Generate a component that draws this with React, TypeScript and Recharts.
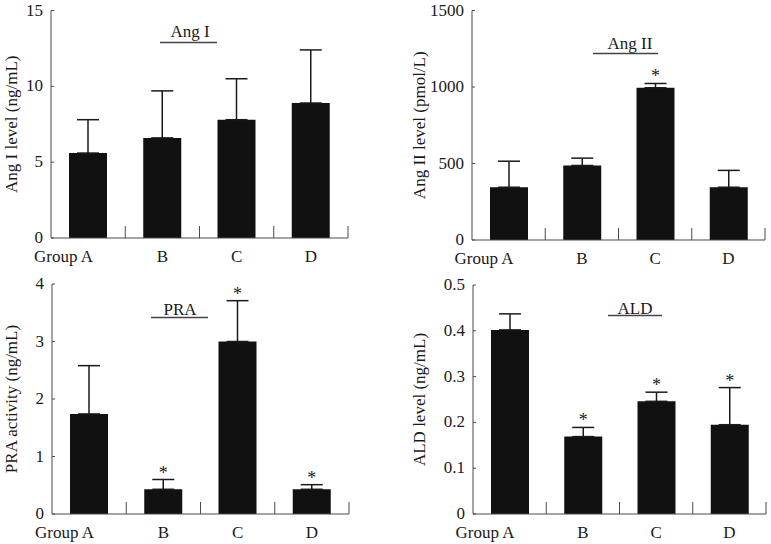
import { BarChart, Bar, XAxis, YAxis, ErrorBar, LabelList } from "recharts";

const groups = ["Group A", "B", "C", "D"];

const angIMean = [5.6, 6.6, 7.8, 8.9];
const angISd = [2.2, 3.1, 2.7, 3.5];
const angISig = [false, false, false, false];
const angITicks = [0, 5, 10, 15];

const angIIMean = [345, 487, 995, 345];
const angIISd = [170, 48, 28, 110];
const angIISig = [false, false, true, false];
const angIITicks = [0, 500, 1000, 1500];

const praMean = [1.74, 0.43, 3.0, 0.43];
const praSd = [0.84, 0.17, 0.71, 0.08];
const praSig = [false, true, true, true];
const praTicks = [0, 1, 2, 3, 4];

const aldMean = [0.402, 0.169, 0.246, 0.195];
const aldSd = [0.035, 0.02, 0.02, 0.081];
const aldSig = [false, true, true, true];
const aldTicks = [0, 0.1, 0.2, 0.3, 0.4, 0.5];

const FONT = "'Liberation Serif', 'Times New Roman', serif";
const AXIS = "#4a4a4a";
const INK = "#1a1a1a";

type Row = { group: string; value: number; err: [number, number]; sd: number; sig: boolean };

const makeRows = (mean: number[], sd: number[], sig: boolean[]): Row[] =>
  groups.map((g, i) => ({ group: g, value: mean[i], err: [0, sd[i]], sd: sd[i], sig: sig[i] }));

// category label + the little separator tick at the right edge of each band
const XTick = (props: any) => {
  const { x, y, payload } = props;
  const half = payload.offset ?? 37;
  const first = payload.index === 0;
  return (
    <g>
      <line x1={x + half} x2={x + half} y1={y} y2={y - 12} stroke={AXIS} strokeWidth={1} />
      <text
        x={first ? x + 5 : x}
        y={y + 24}
        textAnchor={first ? "end" : "middle"}
        fontFamily={FONT}
        fontSize={17}
        fill={INK}
      >
        {payload.value}
      </text>
    </g>
  );
};

const YTick = (props: any) => {
  const { x, y, payload } = props;
  return (
    <text x={x} y={y + 5} textAnchor="end" fontFamily={FONT} fontSize={17} fill={INK}>
      {payload.value}
    </text>
  );
};

type PanelProps = {
  left: number;
  top: number;
  width: number;
  margin: { top: number; right: number; bottom: number; left: number };
  yWidth: number;
  rows: Row[];
  ticks: number[];
  yLabel: string;
  yLabelX: number;
  title: string;
  titleX: number;
  titleY: number;
  line: [number, number, number];
};

function Panel(p: PanelProps) {
  const max = p.ticks[p.ticks.length - 1];

  const star = (lp: any) => {
    const row = p.rows[lp.index];
    if (!row || !row.sig) return null;
    const x = Number(lp.x);
    const y = Number(lp.y);
    const w = Number(lp.width);
    const h = Number(lp.height);
    const errTop = y - (row.sd * h) / row.value;
    return (
      <text x={x + w / 2} y={errTop - 1} textAnchor="middle" fontFamily={FONT} fontSize={18} fill={INK}>
        *
      </text>
    );
  };

  const yLabel = (lp: any) => {
    const vb = lp.viewBox || {};
    const cy = vb.y + vb.height / 2;
    return (
      <text
        x={p.yLabelX}
        y={cy}
        transform={`rotate(-90, ${p.yLabelX}, ${cy})`}
        textAnchor="middle"
        dominantBaseline="central"
        fontFamily={FONT}
        fontSize={17}
        fill={INK}
      >
        {p.yLabel}
      </text>
    );
  };

  return (
    <div style={{ position: "absolute", left: p.left, top: p.top }}>
      <BarChart width={p.width} height={272} data={p.rows} margin={p.margin}>
        <XAxis
          dataKey="group"
          height={30}
          axisLine={{ stroke: AXIS }}
          tickLine={false}
          tickSize={0}
          tickMargin={0}
          tick={<XTick />}
          interval={0}
        />
        <YAxis
          width={p.yWidth}
          domain={[0, max]}
          ticks={p.ticks}
          interval={0}
          axisLine={{ stroke: AXIS }}
          tickLine={{ stroke: AXIS }}
          tickSize={-3}
          tickMargin={11}
          tick={<YTick />}
          label={{ content: yLabel }}
        />
        <Bar dataKey="value" fill="#111111" barSize={38} isAnimationActive={false}>
          <ErrorBar dataKey="err" direction="y" width={11} stroke={INK} strokeWidth={1.5} />
          <LabelList dataKey="value" content={star} />
        </Bar>
        <text x={p.titleX} y={p.titleY} textAnchor="middle" fontFamily={FONT} fontSize={17} fill={INK}>
          {p.title}
        </text>
        <line x1={p.line[0]} x2={p.line[1]} y1={p.line[2]} y2={p.line[2]} stroke="#444" strokeWidth={1.5} />
      </BarChart>
    </div>
  );
}

export default function App() {
  return (
    <div style={{ position: "absolute", left: 0, top: 0, width: 771, height: 544, background: "#fff" }}>
      <Panel
        left={0}
        top={0}
        width={385}
        margin={{ top: 10.5, right: 37, bottom: 4, left: 0 }}
        yWidth={51}
        rows={makeRows(angIMean, angISd, angISig)}
        ticks={angITicks}
        yLabel="Ang I level (ng/mL)"
        yLabelX={11}
        title="Ang I"
        titleX={190}
        titleY={37}
        line={[160, 217, 42.5]}
      />
      <Panel
        left={385}
        top={0}
        width={386}
        margin={{ top: 10.5, right: 6, bottom: 2, left: 0 }}
        yWidth={87}
        rows={makeRows(angIIMean, angIISd, angIISig)}
        ticks={angIITicks}
        yLabel="Ang II level (pmol/L)"
        yLabelX={34}
        title="Ang II"
        titleX={245}
        titleY={48.5}
        line={[208, 273, 53.5]}
      />
      <Panel
        left={0}
        top={272}
        width={385}
        margin={{ top: 12, right: 36, bottom: 0, left: 0 }}
        yWidth={52}
        rows={makeRows(praMean, praSd, praSig)}
        ticks={praTicks}
        yLabel="PRA activity (ng/mL)"
        yLabelX={11}
        title="PRA"
        titleX={180}
        titleY={42.5}
        line={[151, 208, 45.5]}
      />
      <Panel
        left={385}
        top={272}
        width={386}
        margin={{ top: 13, right: 5, bottom: 0, left: 0 }}
        yWidth={88}
        rows={makeRows(aldMean, aldSd, aldSig)}
        ticks={aldTicks}
        yLabel="ALD level (ng/mL)"
        yLabelX={34}
        title="ALD"
        titleX={250}
        titleY={41.5}
        line={[223, 277, 43.5]}
      />
    </div>
  );
}
